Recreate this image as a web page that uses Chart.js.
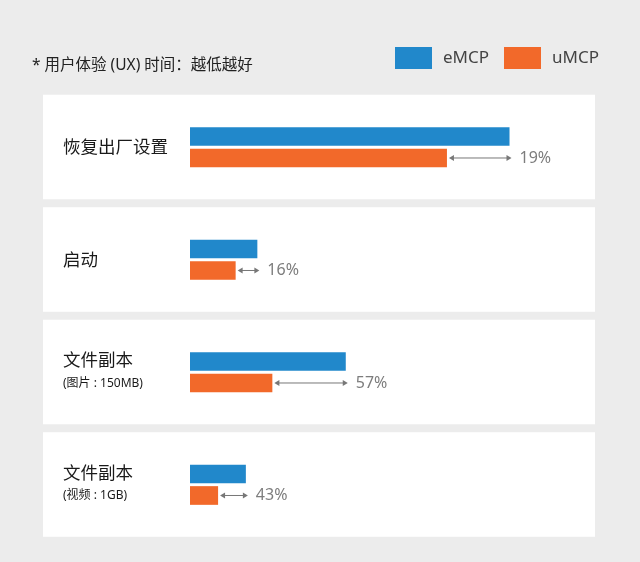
<!DOCTYPE html>
<html>
<head>
<meta charset="utf-8">
<script src="https://cdn.jsdelivr.net/npm/chart.js@4"></script>
<style>
  html, body { margin: 0; padding: 0; background: #ececec; }
  #wrap { position: relative; width: 640px; height: 562px; font-family: "Noto Sans", "Noto Sans CJK SC", sans-serif; }
  #my_chart { position: absolute; left: 0; top: 0; }
  .note { position: absolute; left: 32px; top: 53px; font-size: 15.5px; line-height: 22px; color: #222; white-space: nowrap; }
  .legend { position: absolute; top: 47px; height: 22px; }
  .legend .box { position: absolute; left: 0; top: 0; width: 37px; height: 22px; }
  .legend .txt { position: absolute; left: 48px; top: -2px; font-size: 17px; line-height: 24px; color: #444; white-space: nowrap; }
</style>
</head>
<body>
<div id="wrap">
  <canvas id="my_chart" width="640" height="562"></canvas>
  <div class="note">* 用户体验 (UX) 时间：越低越好</div>
  <div class="legend" style="left:395px"><div class="box" style="background:#2188cb"></div><div class="txt">eMCP</div></div>
  <div class="legend" style="left:504px"><div class="box" style="background:#f2692a"></div><div class="txt">uMCP</div></div>
</div>
<script>
// 数据
var categories = ["恢复出厂设置", "启动", "文件副本", "文件副本"];
var subLabels = ["", "", "(图片 : 150MB)", "(视频 : 1GB)"];
var emcp = [100.1, 21.1, 48.8, 17.5];
var umcp = [80.5, 14.3, 25.8, 8.8];
var gains = ["19%", "16%", "57%", "43%"];

(function () {
    "use strict";

    var panels = {
        id: "panels",
        beforeDatasetsDraw: function (chart) {
            var ctx = chart.ctx;
            var y = chart.scales.y;
            ctx.save();
            ctx.fillStyle = "#ffffff";
            for (var i = 0; i < categories.length; i++) {
                var c = y.getPixelForValue(i);
                ctx.fillRect(43, c - 52.5, 552, 104.5);
            }
            ctx.restore();
        },
        afterDatasetsDraw: function (chart) {
            var ctx = chart.ctx;
            var y = chart.scales.y;
            var blue = chart.getDatasetMeta(0).data;
            var orange = chart.getDatasetMeta(1).data;
            ctx.save();
            for (var i = 0; i < categories.length; i++) {
                var c = y.getPixelForValue(i);
                // labels
                ctx.fillStyle = "#1a1a1a";
                ctx.textBaseline = "middle";
                ctx.textAlign = "left";
                if (subLabels[i]) {
                    ctx.font = '17.5px "Noto Sans", "Noto Sans CJK SC"';
                    ctx.fillText(categories[i], 63, c - 11);
                    ctx.font = '12px "Noto Sans", "Noto Sans CJK SC"';
                    ctx.fillText(subLabels[i], 63, c + 11);
                } else {
                    ctx.font = '17.5px "Noto Sans", "Noto Sans CJK SC"';
                    ctx.fillText(categories[i], 63, c + 1);
                }
                // arrow
                var x0 = orange[i].x + 2;
                var x1 = blue[i].x + 2;
                var ay = orange[i].y;
                ctx.strokeStyle = "#777";
                ctx.fillStyle = "#777";
                ctx.lineWidth = 1;
                ctx.beginPath();
                ctx.moveTo(x0 + 2, ay);
                ctx.lineTo(x1 - 2, ay);
                ctx.stroke();
                ctx.beginPath();
                ctx.moveTo(x0, ay);
                ctx.lineTo(x0 + 5, ay - 3);
                ctx.lineTo(x0 + 5, ay + 3);
                ctx.closePath();
                ctx.fill();
                ctx.beginPath();
                ctx.moveTo(x1, ay);
                ctx.lineTo(x1 - 5, ay - 3);
                ctx.lineTo(x1 - 5, ay + 3);
                ctx.closePath();
                ctx.fill();
                // percent
                ctx.fillStyle = "#7d7d7d";
                ctx.font = '16px "Noto Sans"';
                ctx.fillText(gains[i], x1 + 8, ay);
            }
            ctx.restore();
        },
    };

    var ctx = document.getElementById("my_chart").getContext("2d");

    var myChart = new Chart(ctx, {
        type: "bar",
        data: {
            labels: categories,
            datasets: [
                { label: "eMCP", data: emcp, backgroundColor: "#2188cb" },
                { label: "uMCP", data: umcp, backgroundColor: "#f2692a" },
            ],
        },
        options: {
            indexAxis: "y",
            responsive: false,
            animation: false,
            categoryPercentage: 0.382,
            barPercentage: 0.87,
            layout: { padding: { left: 190, right: 51, top: 91, bottom: 21 } },
            scales: {
                x: { display: false, min: 0, max: 125 },
                y: { display: false },
            },
            plugins: {
                legend: { display: false },
                tooltip: { enabled: false },
            },
        },
        plugins: [panels],
    });
})();
</script>
</body>
</html>
